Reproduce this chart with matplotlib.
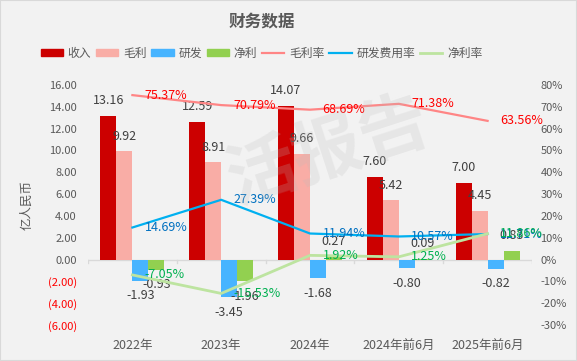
import matplotlib.pyplot as plt
from matplotlib.patches import Patch, Rectangle
from matplotlib.lines import Line2D
import numpy as np

plt.rcParams['font.family'] = ['Noto Sans CJK SC', 'DejaVu Sans']

# 数据
categories = ['2022年', '2023年', '2024年', '2024年前6月', '2025年前6月']
revenue = [13.16, 12.59, 14.07, 7.60, 7.00]
gross = [9.92, 8.91, 9.66, 5.42, 4.45]
rnd = [-1.93, -3.45, -1.68, -0.80, -0.82]
net = [-0.93, -1.96, 0.27, 0.09, 0.83]
gross_rate = [75.37, 70.79, 68.69, 71.38, 63.56]
rnd_rate = [14.69, 27.39, 11.94, 10.57, 11.71]
net_rate = [-7.05, -15.53, 1.92, 1.25, 11.86]

c_rev = '#CC0000'
c_gross = '#F9ADA6'
c_rnd = '#47B4FF'
c_net = '#92D050'
c_grate = '#FF8585'
c_rrate = '#00B0F0'
c_nrate = '#BDE4A0'

fig = plt.figure(figsize=(5.77, 3.61), dpi=100, facecolor='#F2F2F2')
ax = fig.add_axes([0.1525, 0.0997, 0.7695, 0.6648])
ax.set_facecolor('none')
ax2 = ax.twinx()

x = np.arange(len(categories))
w = 0.18
series = [(revenue, c_rev), (gross, c_gross), (rnd, c_rnd), (net, c_net)]
for k, (vals, col) in enumerate(series):
    pos = x + (k - 1.5) * w
    ax.bar(pos, vals, width=w, color=col, zorder=2)
    for px, v in zip(pos, vals):
        off = 11 if v >= 0 else -11
        ax.annotate(f'{v:.2f}', (px, v), xytext=(0, off), textcoords='offset points',
                    ha='center', va='center', fontsize=9, color='#404040', zorder=3)

ax.set_xlim(-0.5, len(categories) - 0.5)
ax.set_ylim(-6, 16)
ax.set_yticks(np.arange(-6, 17, 2))
ax.set_yticklabels([f'{v:.2f}' if v >= 0 else f'({-v:.2f})' for v in np.arange(-6, 17, 2)])
for t, v in zip(ax.get_yticklabels(), np.arange(-6, 17, 2)):
    t.set_color('#FF0000' if v < 0 else '#595959')
ax.set_xticks(x)
ax.set_xticklabels(categories, fontsize=9, color='#595959')
ax.tick_params(axis='x', length=0, pad=10)
ax.tick_params(axis='y', length=0, labelsize=8, pad=8)
for s in ax.spines.values():
    s.set_visible(False)
for s in ax2.spines.values():
    s.set_visible(False)

# 零线和刻度
ax.axhline(0, color='#D9D9D9', lw=1, zorder=1)
for b in np.arange(-0.5, len(categories), 1.0):
    ax.plot([b, b], [0, -0.35], color='#D9D9D9', lw=1, zorder=1)

ax.set_ylabel('亿人民币', fontsize=9, color='#595959', labelpad=10)

# 折线
ax2.plot(x, gross_rate, color=c_grate, lw=1.6, zorder=4)
ax2.plot(x, rnd_rate, color=c_rrate, lw=1.6, zorder=4)
ax2.plot(x, net_rate, color=c_nrate, lw=2.0, zorder=4)
for vals, col in [(gross_rate, '#FF0000'), (rnd_rate, '#0070C0'), (net_rate, '#00B050')]:
    for px, v in zip(x, vals):
        ax2.annotate(f'{v:.2f}%', (px, v), xytext=(9, 0), textcoords='offset points',
                     ha='left', va='center', fontsize=9, color=col, zorder=5)
ax2.set_ylim(-30, 80)
ax2.set_yticks(np.arange(-30, 81, 10))
ax2.set_yticklabels([f'{v}%' for v in np.arange(-30, 81, 10)])
ax2.tick_params(axis='y', length=0, labelsize=8, colors='#595959', pad=6)

# 标题和图例
fig.text(0.453, 0.94, '财务数据', ha='center', va='center', fontsize=12,
         fontweight='bold', color='#595959')
handles = [Patch(color=c_rev), Patch(color=c_gross), Patch(color=c_rnd), Patch(color=c_net),
           Line2D([], [], color=c_grate, lw=1.6), Line2D([], [], color=c_rrate, lw=1.6),
           Line2D([], [], color=c_nrate, lw=2)]
labels = ['收入', '毛利', '研发', '净利', '毛利率', '研发费用率', '净利率']
fig.legend(handles, labels, loc='center', bbox_to_anchor=(0.453, 0.853), ncol=7,
           frameon=False, fontsize=8.5, handlelength=1.9, handleheight=0.6,
           handletextpad=0.4, columnspacing=0.4, labelcolor='#595959')

# 水印
fig.text(0.57, 0.58, '活报告', fontsize=50, color='#BBBBBB', alpha=0.22,
         rotation=18, ha='center', va='center', fontweight='bold')

fig.patches.append(Rectangle((0, 0), 1, 1, transform=fig.transFigure, fill=False,
                             edgecolor='#D9D9D9', lw=1.5))

plt.savefig('out.png', dpi=100, facecolor=fig.get_facecolor())
